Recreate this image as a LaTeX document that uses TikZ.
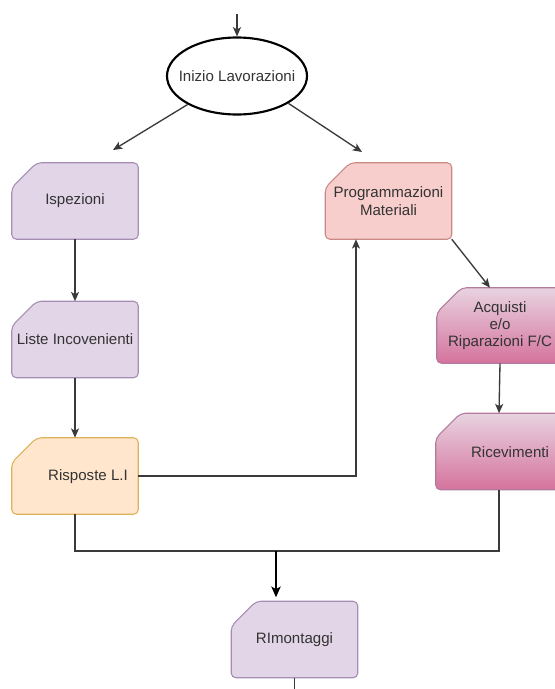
\documentclass[tikz,border=0pt]{standalone}
\usepackage{fontspec}
\setmainfont{Liberation Sans}
\usetikzlibrary{arrows.meta,shapes.geometric,backgrounds}

\definecolor{txt}{HTML}{333333}
\definecolor{wire}{HTML}{3A3A3A}
\definecolor{lilacF}{HTML}{E1D5E7}
\definecolor{lilacD}{HTML}{A58DB3}
\definecolor{roseF}{HTML}{F8CECC}
\definecolor{roseD}{HTML}{C98A87}
\definecolor{sandF}{HTML}{FFE6CC}
\definecolor{sandD}{HTML}{DDB25A}
\definecolor{pinkTop}{HTML}{E8D3E0}
\definecolor{pinkBot}{HTML}{D5739D}
\definecolor{pinkD}{HTML}{B27A9C}

% card outline: chamfered top-left corner, rounded others
\newcommand\cardpath[1]{([xshift=18.75pt]#1.north west) -- (#1.north east) -- (#1.south east) -- (#1.south west) -- ([yshift=-18.75pt]#1.north west) -- cycle}

\tikzset{
  box/.style={minimum width=94.5pt, minimum height=57pt, inner sep=0pt,
    font=\fontsize{11.3}{13}\selectfont, text=txt, align=center},
  label/.style={inner sep=0pt, font=\fontsize{11.3}{13}\selectfont, text=txt, align=center},
  wireline/.style={draw=wire, line width=1pt},
  arr/.style={wireline, -{Stealth[length=7pt,width=6pt,inset=1.8pt]}},
  bigarr/.style={draw=black, line width=1.5pt, -{Stealth[length=8pt,width=7pt,inset=2pt]}},
  cardshape/.style={rounded corners=3.5pt, line width=0.8pt},
}

\begin{document}
\begin{tikzpicture}[x=0.75pt,y=-0.75pt]
  \useasboundingbox (0,0) rectangle (554,689);

  % start node
  \node[ellipse, draw=black, line width=1.6pt, fill=white, minimum width=105pt,
        minimum height=57.75pt, inner xsep=-7pt, inner ysep=0pt,
        font=\fontsize{11.3}{13}\selectfont, text=txt]
        (ell) at (237,76) {Inizio Lavorazioni};
  \coordinate (top) at (237,14);

  % process cards
  \node[box] (isp)  at (75,201)    {Ispezioni};
  \node[box] (lis)  at (75,339.5)  {Liste Incovenienti};
  \node[box] (ris)  at (75,476)    {};
  \node[label] (ris-t) at (88,477) {Risposte L.I};
  \node[box] (prog) at (388.5,201) {Programmazioni\\Materiali};
  \node[box, minimum height=56.25pt] (acq) at (500,325.5) {Acquisti\\e/o\\Riparazioni F/C};
  \node[box] (ric)  at (499,451.5) {};
  \node[label] (ric-t) at (510,452) {Ricevimenti};
  \node[box] (rim)  at (294.5,639.5) {RImontaggi};

  \begin{pgfonlayer}{background}
    \draw[cardshape, fill=lilacF, draw=lilacD] \cardpath{isp};
    \draw[cardshape, fill=lilacF, draw=lilacD] \cardpath{lis};
    \draw[cardshape, fill=sandF,  draw=sandD]  \cardpath{ris};
    \draw[cardshape, fill=roseF,  draw=roseD]  \cardpath{prog};
    \draw[cardshape, top color=pinkTop, bottom color=pinkBot, draw=pinkD] \cardpath{acq};
    \draw[cardshape, top color=pinkTop, bottom color=pinkBot, draw=pinkD] \cardpath{ric};
    \draw[cardshape, fill=lilacF, draw=lilacD] \cardpath{rim};
  \end{pgfonlayer}

  % arrow tips that stop short of their targets
  \coordinate (ispIn)  at (113,150);
  \coordinate (progIn) at (362,152);
  \coordinate (join)   at (276,551);
  \coordinate (out)    at (294.5,692);

  % connectors
  \draw[arr] (top) -- (ell.north);
  \draw[arr] (ell.210) -- (ispIn);
  \draw[arr] (ell.332) -- (progIn);
  \draw[arr] (prog.south east) -- ([xshift=-7.5pt]acq.north);
  \draw[arr] (isp.south) -- (lis.north);
  \draw[arr] (lis.south) -- (ris.north);
  \draw[arr] (acq.south) -- (ric.north);
  \draw[arr] (ris.east) -| ([xshift=-24.4pt]prog.south);
  \draw[wireline] (ris.south) |- (join) -| (ric.south);
  \draw[bigarr] (join) -- ([yshift=3pt]join |- rim.north);
  \draw[wireline] (rim.south) -- (out);
\end{tikzpicture}
\end{document}
